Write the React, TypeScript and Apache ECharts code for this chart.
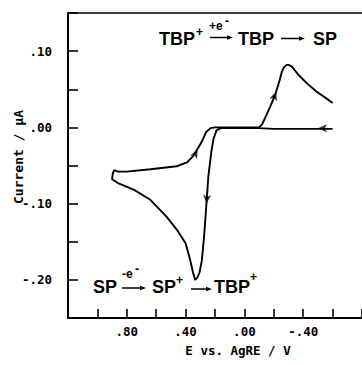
import React, { useEffect, useRef } from "react";
import * as echarts from "echarts";

// Cyclic voltammogram trace, in scan order (E in V vs AgRE, I in µA)
const baselineOut: number[][] = [
  [-0.6, -0.002], [-0.5, -0.002], [-0.4, -0.002], [-0.3, -0.002], [-0.2, -0.002],
  [-0.1, -0.001], [0.0, -0.001], [0.1, -0.001], [0.16, -0.001], [0.19, -0.004],
];
const oxidation: number[][] = [
  [0.21, -0.015], [0.225, -0.032], [0.245, -0.064], [0.26, -0.105], [0.275, -0.145],
  [0.29, -0.175], [0.305, -0.19], [0.32, -0.197], [0.335, -0.2], [0.35, -0.19],
  [0.37, -0.173], [0.4, -0.152], [0.46, -0.134], [0.53, -0.117], [0.64, -0.095],
  [0.75, -0.082], [0.86, -0.073], [0.9, -0.068],
];
const returnScan: number[][] = [
  [0.895, -0.06], [0.885, -0.056], [0.86, -0.058], [0.8, -0.058], [0.64, -0.055],
  [0.46, -0.051], [0.39, -0.046], [0.35, -0.038], [0.315, -0.027], [0.29, -0.019],
  [0.26, -0.006], [0.23, -0.001], [0.2, 0.0],
];
const baselineBack: number[][] = [
  [0.1, 0.0], [0.0, 0.0], [-0.1, 0.0],
];
const reduction: number[][] = [
  [-0.12, 0.004], [-0.14, 0.012], [-0.175, 0.027], [-0.21, 0.043], [-0.24, 0.062],
  [-0.255, 0.073], [-0.27, 0.079], [-0.288, 0.082], [-0.3, 0.082], [-0.322, 0.08],
  [-0.367, 0.069], [-0.424, 0.058], [-0.49, 0.047], [-0.55, 0.039], [-0.6, 0.032],
];
// Direction arrows on the trace: [E, I, rotation in degrees]
const scanArrows: number[][] = [
  [-0.5, -0.001, 90], [0.258, -0.1, 176], [0.318, -0.029, -27], [-0.215, 0.047, -18],
];
const xLabelValues = [0.8, 0.4, 0.0, -0.4];
const yLabelValues = [0.1, 0.0, -0.1, -0.2];

const tickFont = "'DejaVu Sans Mono', monospace";
const chemFont = "'Liberation Sans', Arial, sans-serif";

const fmt = (v: number) =>
  (v < -1e-9 ? "-" : "") + "." + String(Math.round(Math.abs(v) * 100)).padStart(2, "0");
const isIn = (list: number[], v: number) => list.some((l) => Math.abs(l - v) < 1e-6);

function arrowHead(x: number, y: number) {
  return {
    type: "polygon",
    shape: { points: [[x, y], [x - 6, y - 2.2], [x - 6, y + 2.2]] },
    style: { fill: "#000" },
  };
}

export default function App() {
  const ref = useRef<HTMLDivElement>(null);
  useEffect(() => {
    if (!ref.current) return;
    const chart = echarts.init(ref.current, undefined, { renderer: "svg" });
    const trace = [...baselineOut, ...oxidation, ...returnScan, ...baselineBack, ...reduction];
    const chem = (text: string, x: number, y: number, size: number) => ({
      type: "text",
      x,
      y,
      style: {
        text,
        fill: "#000",
        font: `bold ${size}px ${chemFont}`,
        textAlign: "left",
        textVerticalAlign: "middle",
      },
    });
    chart.setOption({
      animation: false,
      backgroundColor: "#fff",
      grid: { left: 68, right: 0, top: 13, bottom: 47, containLabel: false, outerBoundsMode: "none" },
      xAxis: [
        {
          type: "value",
          inverse: true,
          min: -0.8,
          max: 1.2,
          interval: 0.2,
          position: "bottom",
          axisLine: { show: true, onZero: false, lineStyle: { color: "#000", width: 2 } },
          axisTick: { show: true, inside: true, length: 9, lineStyle: { color: "#000", width: 1.6 } },
          axisLabel: {
            show: true,
            margin: 7,
            color: "#000",
            fontFamily: tickFont,
            fontWeight: "bold",
            fontSize: 12.5,
            formatter: (v: number) => (isIn(xLabelValues, v) ? fmt(v) : ""),
          },
          splitLine: { show: false },
        },
        {
          type: "value",
          position: "top",
          inverse: true,
          min: -0.8,
          max: 1.2,
          axisLine: { show: true, onZero: false, lineStyle: { color: "#000", width: 1.6 } },
          axisTick: { show: false },
          axisLabel: { show: false },
          splitLine: { show: false },
        },
      ],
      yAxis: {
        type: "value",
        min: -0.25,
        max: 0.15,
        interval: 0.05,
        position: "left",
        axisLine: { show: true, onZero: false, lineStyle: { color: "#000", width: 2 } },
        axisTick: { show: true, inside: true, length: 10, lineStyle: { color: "#000", width: 1.6 } },
        axisLabel: {
          show: true,
          margin: 16,
          color: "#000",
          fontFamily: tickFont,
          fontWeight: "bold",
          fontSize: 12.5,
          formatter: (v: number) => (isIn(yLabelValues, v) ? fmt(v) : ""),
        },
        splitLine: { show: false },
      },
      series: [
        {
          type: "line",
          data: trace,
          showSymbol: false,
          symbol: "none",
          lineStyle: { color: "#000", width: 1.9 },
          z: 3,
        },
        {
          type: "scatter",
          data: scanArrows.map((a) => ({ value: [a[0], a[1]], symbolRotate: a[2] })),
          symbol: "arrow",
          symbolSize: [6, 9],
          itemStyle: { color: "#000" },
          z: 4,
        },
      ],
      graphic: [
        {
          type: "text",
          x: 238,
          y: 350,
          style: {
            text: "E vs. AgRE / V",
            fill: "#000",
            font: `bold 12.5px ${tickFont}`,
            textAlign: "center",
            textVerticalAlign: "middle",
          },
        },
        {
          type: "text",
          x: 18,
          y: 157,
          rotation: Math.PI / 2,
          style: {
            text: "Current / µA",
            fill: "#000",
            font: `bold 13px ${tickFont}`,
            textAlign: "center",
            textVerticalAlign: "middle",
          },
        },
        // top reaction: TBP+ --(+e-)--> TBP --> SP
        chem("TBP", 159, 38.5, 18),
        chem("+", 196, 32, 12),
        chem("+e", 209, 26, 12),
        chem("-", 225, 21, 12),
        { type: "line", shape: { x1: 210, y1: 37.5, x2: 229, y2: 37.5 }, style: { stroke: "#000", lineWidth: 1.5 } },
        arrowHead(233, 37.5),
        chem("TBP", 238, 38.5, 18),
        { type: "line", shape: { x1: 281, y1: 38.5, x2: 300, y2: 38.5 }, style: { stroke: "#000", lineWidth: 1.5 } },
        arrowHead(305, 38.5),
        chem("SP", 313, 38.5, 18),
        // bottom reaction: SP --(-e-)--> SP+ --> TBP+
        chem("SP", 93, 286.5, 18),
        chem("-e", 122, 274, 12),
        chem("-", 135, 269, 12),
        { type: "line", shape: { x1: 122, y1: 288, x2: 141, y2: 288 }, style: { stroke: "#000", lineWidth: 1.5 } },
        arrowHead(146, 288),
        chem("SP", 152, 286.5, 18),
        chem("+", 176, 280, 12),
        { type: "line", shape: { x1: 191, y1: 289, x2: 207, y2: 289 }, style: { stroke: "#000", lineWidth: 1.5 } },
        arrowHead(212, 289),
        chem("TBP", 214, 286.5, 18),
        chem("+", 250, 277, 12),
      ],
    });
    return () => chart.dispose();
  }, []);
  return (
    <div
      ref={ref}
      style={{ position: "absolute", left: 0, top: 0, width: 362, height: 365 }}
    />
  );
}
